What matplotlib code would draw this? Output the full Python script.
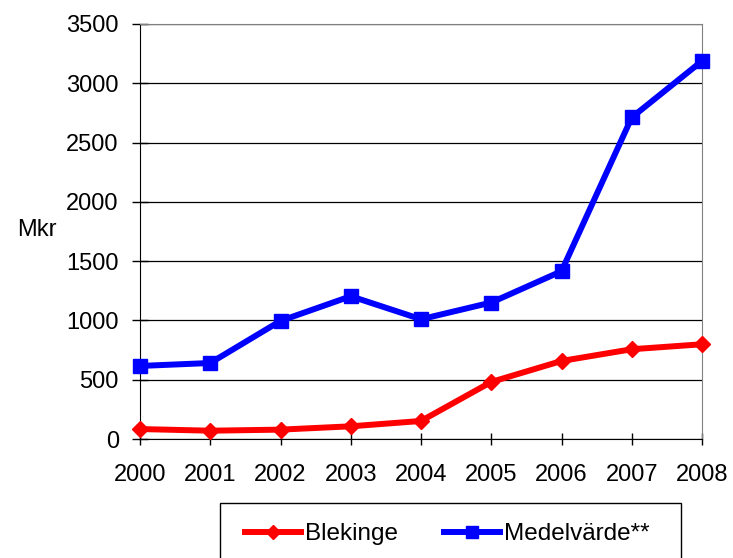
import matplotlib.pyplot as plt
from matplotlib.patches import Rectangle
import numpy as np

plt.rcParams['font.family'] = ['Liberation Sans', 'DejaVu Sans']

years = ["2000", "2001", "2002", "2003", "2004", "2005", "2006", "2007", "2008"]
blekinge = [84, 70, 79, 107, 152, 481, 658, 757, 799]
medelvarde = [616, 641, 996, 1204, 1010, 1151, 1415, 2712, 3188]

fig = plt.figure(figsize=(7.33, 5.58), dpi=100)
ax = fig.add_axes([140/733, 1-439/558, (702-140)/733, (439-24)/558])

x = np.arange(len(years))
ax.plot(x, blekinge, color="#ff0000", lw=4.3, marker="D", ms=8, label="Blekinge", zorder=3, clip_on=False)
ax.plot(x, medelvarde, color="#0000ff", lw=4.3, marker="s", ms=10, label="Medelvärde**", zorder=3, clip_on=False)

ax.set_xlim(0, len(years) - 1)
ax.set_ylim(0, 3500)
ax.set_yticks(range(0, 3501, 500))
ax.set_xticks(x)
ax.set_xticklabels(years)
ax.tick_params(labelsize=17, width=1)
ax.tick_params(axis='y', direction='inout', length=11.5, pad=9.5)
ax.tick_params(axis='x', direction='inout', length=8, pad=14)
ax.grid(axis='y', color='black', lw=0.9)
ax.set_axisbelow(True)
for s in ['top', 'right']:
    ax.spines[s].set_color('#808080')
fig.text(17/733, 1-230/558, "Mkr", fontsize=17, ha='left', va='center')

# legend box, cut off by the bottom edge like the original
fig.patches.append(Rectangle((220/733, -0.05), (681-220)/733, 1-503/558+0.05,
                             transform=fig.transFigure, fill=False,
                             edgecolor='black', lw=1))
leg = fig.legend(loc='upper left', bbox_to_anchor=(245/733, 1-523/558), ncol=2,
                 fontsize=17.5, frameon=False,
                 handlelength=2.3, handletextpad=0.17, columnspacing=1.9,
                 borderpad=0, borderaxespad=0, markerscale=0.9)

fig.savefig("out.png", dpi=100)
